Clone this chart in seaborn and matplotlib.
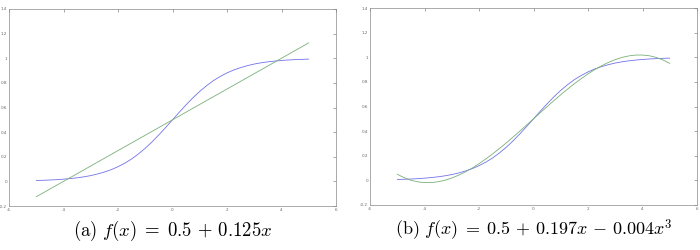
import pandas as pd
import matplotlib
matplotlib.use('Agg')
import matplotlib.pyplot as plt
import seaborn as sns

# Values (x every 0.25 from -5 to 5)
x_curve = [-5, -4.75, -4.5, -4.25, -4, -3.75, -3.5, -3.25, -3, -2.75,
           -2.5, -2.25, -2, -1.75, -1.5, -1.25, -1, -0.75, -0.5, -0.25,
           0, 0.25, 0.5, 0.75, 1, 1.25, 1.5, 1.75, 2, 2.25,
           2.5, 2.75, 3, 3.25, 3.5, 3.75, 4, 4.25, 4.5, 4.75, 5]
sigmoid_y = [0.007, 0.009, 0.011, 0.014, 0.018, 0.023, 0.029, 0.037, 0.047, 0.060,
             0.076, 0.095, 0.119, 0.148, 0.182, 0.223, 0.269, 0.321, 0.378, 0.438,
             0.5, 0.562, 0.622, 0.679, 0.731, 0.777, 0.818, 0.852, 0.881, 0.905,
             0.924, 0.940, 0.953, 0.963, 0.971, 0.977, 0.982, 0.986, 0.989, 0.991, 0.993]
cubic_y = [0.050, 0.022, 0.001, -0.012, -0.018, -0.018, -0.011, 0.001, 0.019, 0.042,
           0.069, 0.100, 0.135, 0.174, 0.215, 0.259, 0.304, 0.352, 0.401, 0.450,
           0.5, 0.550, 0.599, 0.648, 0.696, 0.741, 0.785, 0.826, 0.865, 0.900,
           0.931, 0.958, 0.981, 0.999, 1.011, 1.018, 1.018, 1.012, 0.999, 0.978, 0.950]
linear_x = [-5, 5]
linear_y = [-0.125, 1.125]

x_ticks = [-6, -4, -2, 0, 2, 4, 6]
y_ticks = [-0.2, 0, 0.2, 0.4, 0.6, 0.8, 1, 1.2, 1.4]
y_tick_labels = ['-0.2', '0', '0.2', '0.4', '0.6', '0.8', '1', '1.2', '1.4']
captions = [r'$\mathrm{(a)}\ f(x)\;=\;0.5\,+\,0.125x$',
            r'$\mathrm{(b)}\ f(x)\;=\;0.5\,+\,0.197x\,-\,0.004x^3$']
caption_sizes = [13.5, 13]

sns.set_style('white', {'xtick.direction': 'in', 'ytick.direction': 'in'})
plt.rcParams['mathtext.fontset'] = 'cm'
plt.rcParams['font.family'] = ['DejaVu Sans']

blue = '#7272ea'
green = '#78b078'

fig = plt.figure(figsize=(7, 2.5), dpi=100)
ax_a = fig.add_axes([9 / 700, 44 / 250, 327 / 700, 197 / 250])
ax_b = fig.add_axes([370 / 700, 45 / 250, 327 / 700, 197 / 250])

df_sig = pd.DataFrame({'x': x_curve, 'y': sigmoid_y})
df_lin = pd.DataFrame({'x': linear_x, 'y': linear_y})
df_cub = pd.DataFrame({'x': x_curve, 'y': cubic_y})

sns.lineplot(ax=ax_a, data=df_sig, x='x', y='y', color=blue, lw=0.6)
sns.lineplot(ax=ax_a, data=df_lin, x='x', y='y', color=green, lw=0.6)
sns.lineplot(ax=ax_b, data=df_sig, x='x', y='y', color=blue, lw=0.6)
sns.lineplot(ax=ax_b, data=df_cub, x='x', y='y', color=green, lw=0.6)

for ax, cap, size in zip([ax_a, ax_b], captions, caption_sizes):
    ax.set_xlim(-6, 6)
    ax.set_ylim(-0.2, 1.4)
    ax.set_xticks(x_ticks)
    ax.set_xticklabels([str(t) for t in x_ticks])
    ax.set_yticks(y_ticks)
    ax.set_yticklabels(y_tick_labels)
    ax.set_xlabel('')
    ax.set_ylabel('')
    ax.tick_params(axis='both', which='both', direction='in', length=2.5, width=0.4,
                   labelsize=3, pad=1.5, top=True, right=True, colors='#666666',
                   labelcolor='#666666')
    for spine in ax.spines.values():
        spine.set_linewidth(0.5)
        spine.set_color('#888888')
    ax.text(0.5, -0.127, cap, transform=ax.transAxes, ha='center', va='center',
            fontsize=size, color='black')

fig.savefig('out.png', dpi=100)
